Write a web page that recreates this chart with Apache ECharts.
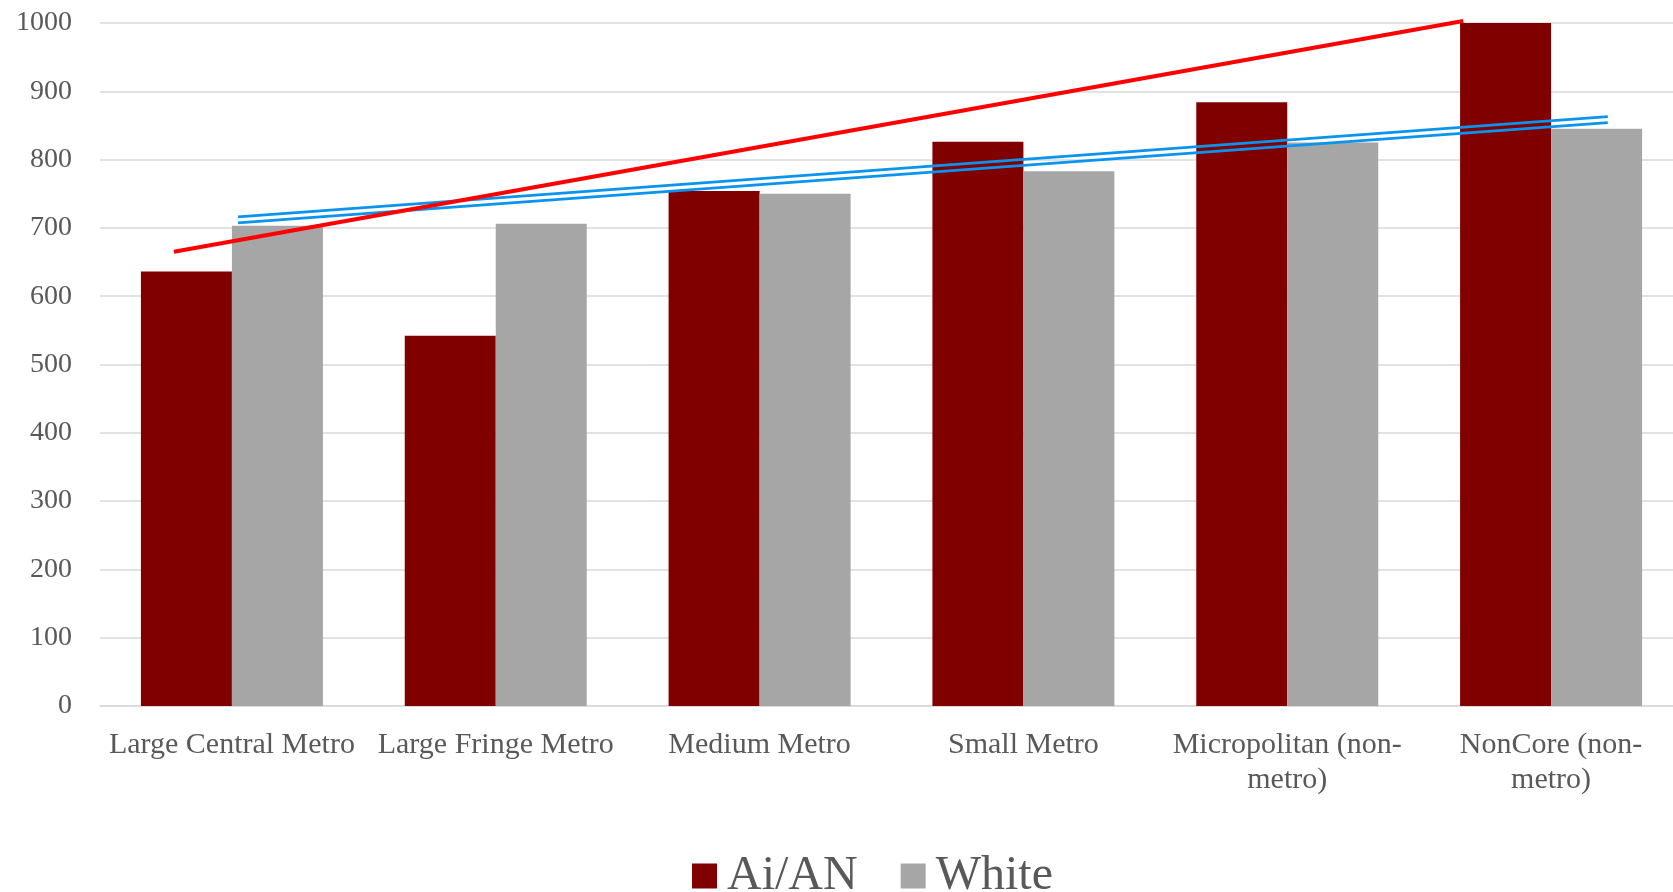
<!DOCTYPE html>
<html>
<head>
<meta charset="utf-8">
<script src="https://cdn.jsdelivr.net/npm/echarts@6/dist/echarts.min.js"></script>
<style>
html,body{margin:0;padding:0;background:#fff;overflow:hidden;}
#chart{width:1683px;height:892px;}
</style>
</head>
<body>
<div id="chart"></div>
<script>
// ---- data ----
const categories = ["Large Central Metro", "Large Fringe Metro", "Medium Metro", "Small Metro", "Micropolitan (non-metro)", "NonCore (non-metro)"];
const seriesNames = ["Ai/AN", "White"];
const aianValues = [636, 542, 754, 826, 884, 1000];
const whiteValues = [703, 706, 750, 783, 825, 845];
const yTicks = [0, 100, 200, 300, 400, 500, 600, 700, 800, 900, 1000];
// hand-drawn overlay lines: x in category units (0 = left edge of first category), y in axis units
const redLineX = [0.28, 5.167];
const redLineY = [665, 1003];
const blueLineX = [0.523, 5.715];
const blueUpperY = [716, 863];
const blueLowerY = [707.5, 854];

const FONT = '"Liberation Serif", "DejaVu Serif", serif';
const TXT = '#595959';
const pairs = (xs, ys) => xs.map((x, i) => [x, ys[i]]);

const chart = echarts.init(document.getElementById('chart'), null, {renderer: 'canvas'});
chart.setOption({
  animation: false,
  backgroundColor: '#ffffff',
  textStyle: {fontFamily: FONT},
  grid: {left: 100, top: 23, right: 0, height: 683, containLabel: false},
  legend: {
    data: seriesNames,
    left: 687,
    top: 847,
    icon: 'rect',
    itemWidth: 25,
    itemHeight: 25,
    itemGap: 43,
    textStyle: {fontFamily: FONT, fontSize: 48, lineHeight: 48, color: TXT, padding: [0, 0, 0, 5]}
  },
  xAxis: [{
    type: 'category',
    data: categories,
    axisTick: {show: false},
    axisLine: {lineStyle: {color: '#d9d9d9', width: 1.5}},
    axisLabel: {
      fontFamily: FONT, fontSize: 30, lineHeight: 35, color: TXT, margin: 22, interval: 0,
      formatter: v => v.replace('(non-metro)', '(non-\nmetro)')
    }
  }, {
    type: 'value', min: 0, max: 6, show: false
  }],
  yAxis: {
    type: 'value',
    min: yTicks[0],
    max: yTicks[yTicks.length - 1],
    interval: yTicks[1] - yTicks[0],
    axisLine: {show: false},
    axisTick: {show: false},
    splitLine: {lineStyle: {color: '#d9d9d9', width: 1.5}},
    axisLabel: {fontFamily: FONT, fontSize: 28, color: TXT, margin: 28, formatter: v => String(v)}
  },
  series: [
    {name: seriesNames[0], type: 'bar', data: aianValues, barWidth: 91, barGap: '0%',
     itemStyle: {color: '#800000'}},
    {name: seriesNames[1], type: 'bar', data: whiteValues, barWidth: 91, barGap: '0%',
     itemStyle: {color: '#a6a6a6'}},
    {name: 'blueUpper', type: 'line', xAxisIndex: 1, data: pairs(blueLineX, blueUpperY),
     symbol: 'none', clip: false, lineStyle: {color: '#0a94ee', width: 2.8}},
    {name: 'blueLower', type: 'line', xAxisIndex: 1, data: pairs(blueLineX, blueLowerY),
     symbol: 'none', clip: false, lineStyle: {color: '#0a94ee', width: 2.8}},
    {name: 'redTrend', type: 'line', xAxisIndex: 1, data: pairs(redLineX, redLineY),
     symbol: 'none', clip: false, lineStyle: {color: '#ff0000', width: 4}}
  ]
});
</script>
</body>
</html>
